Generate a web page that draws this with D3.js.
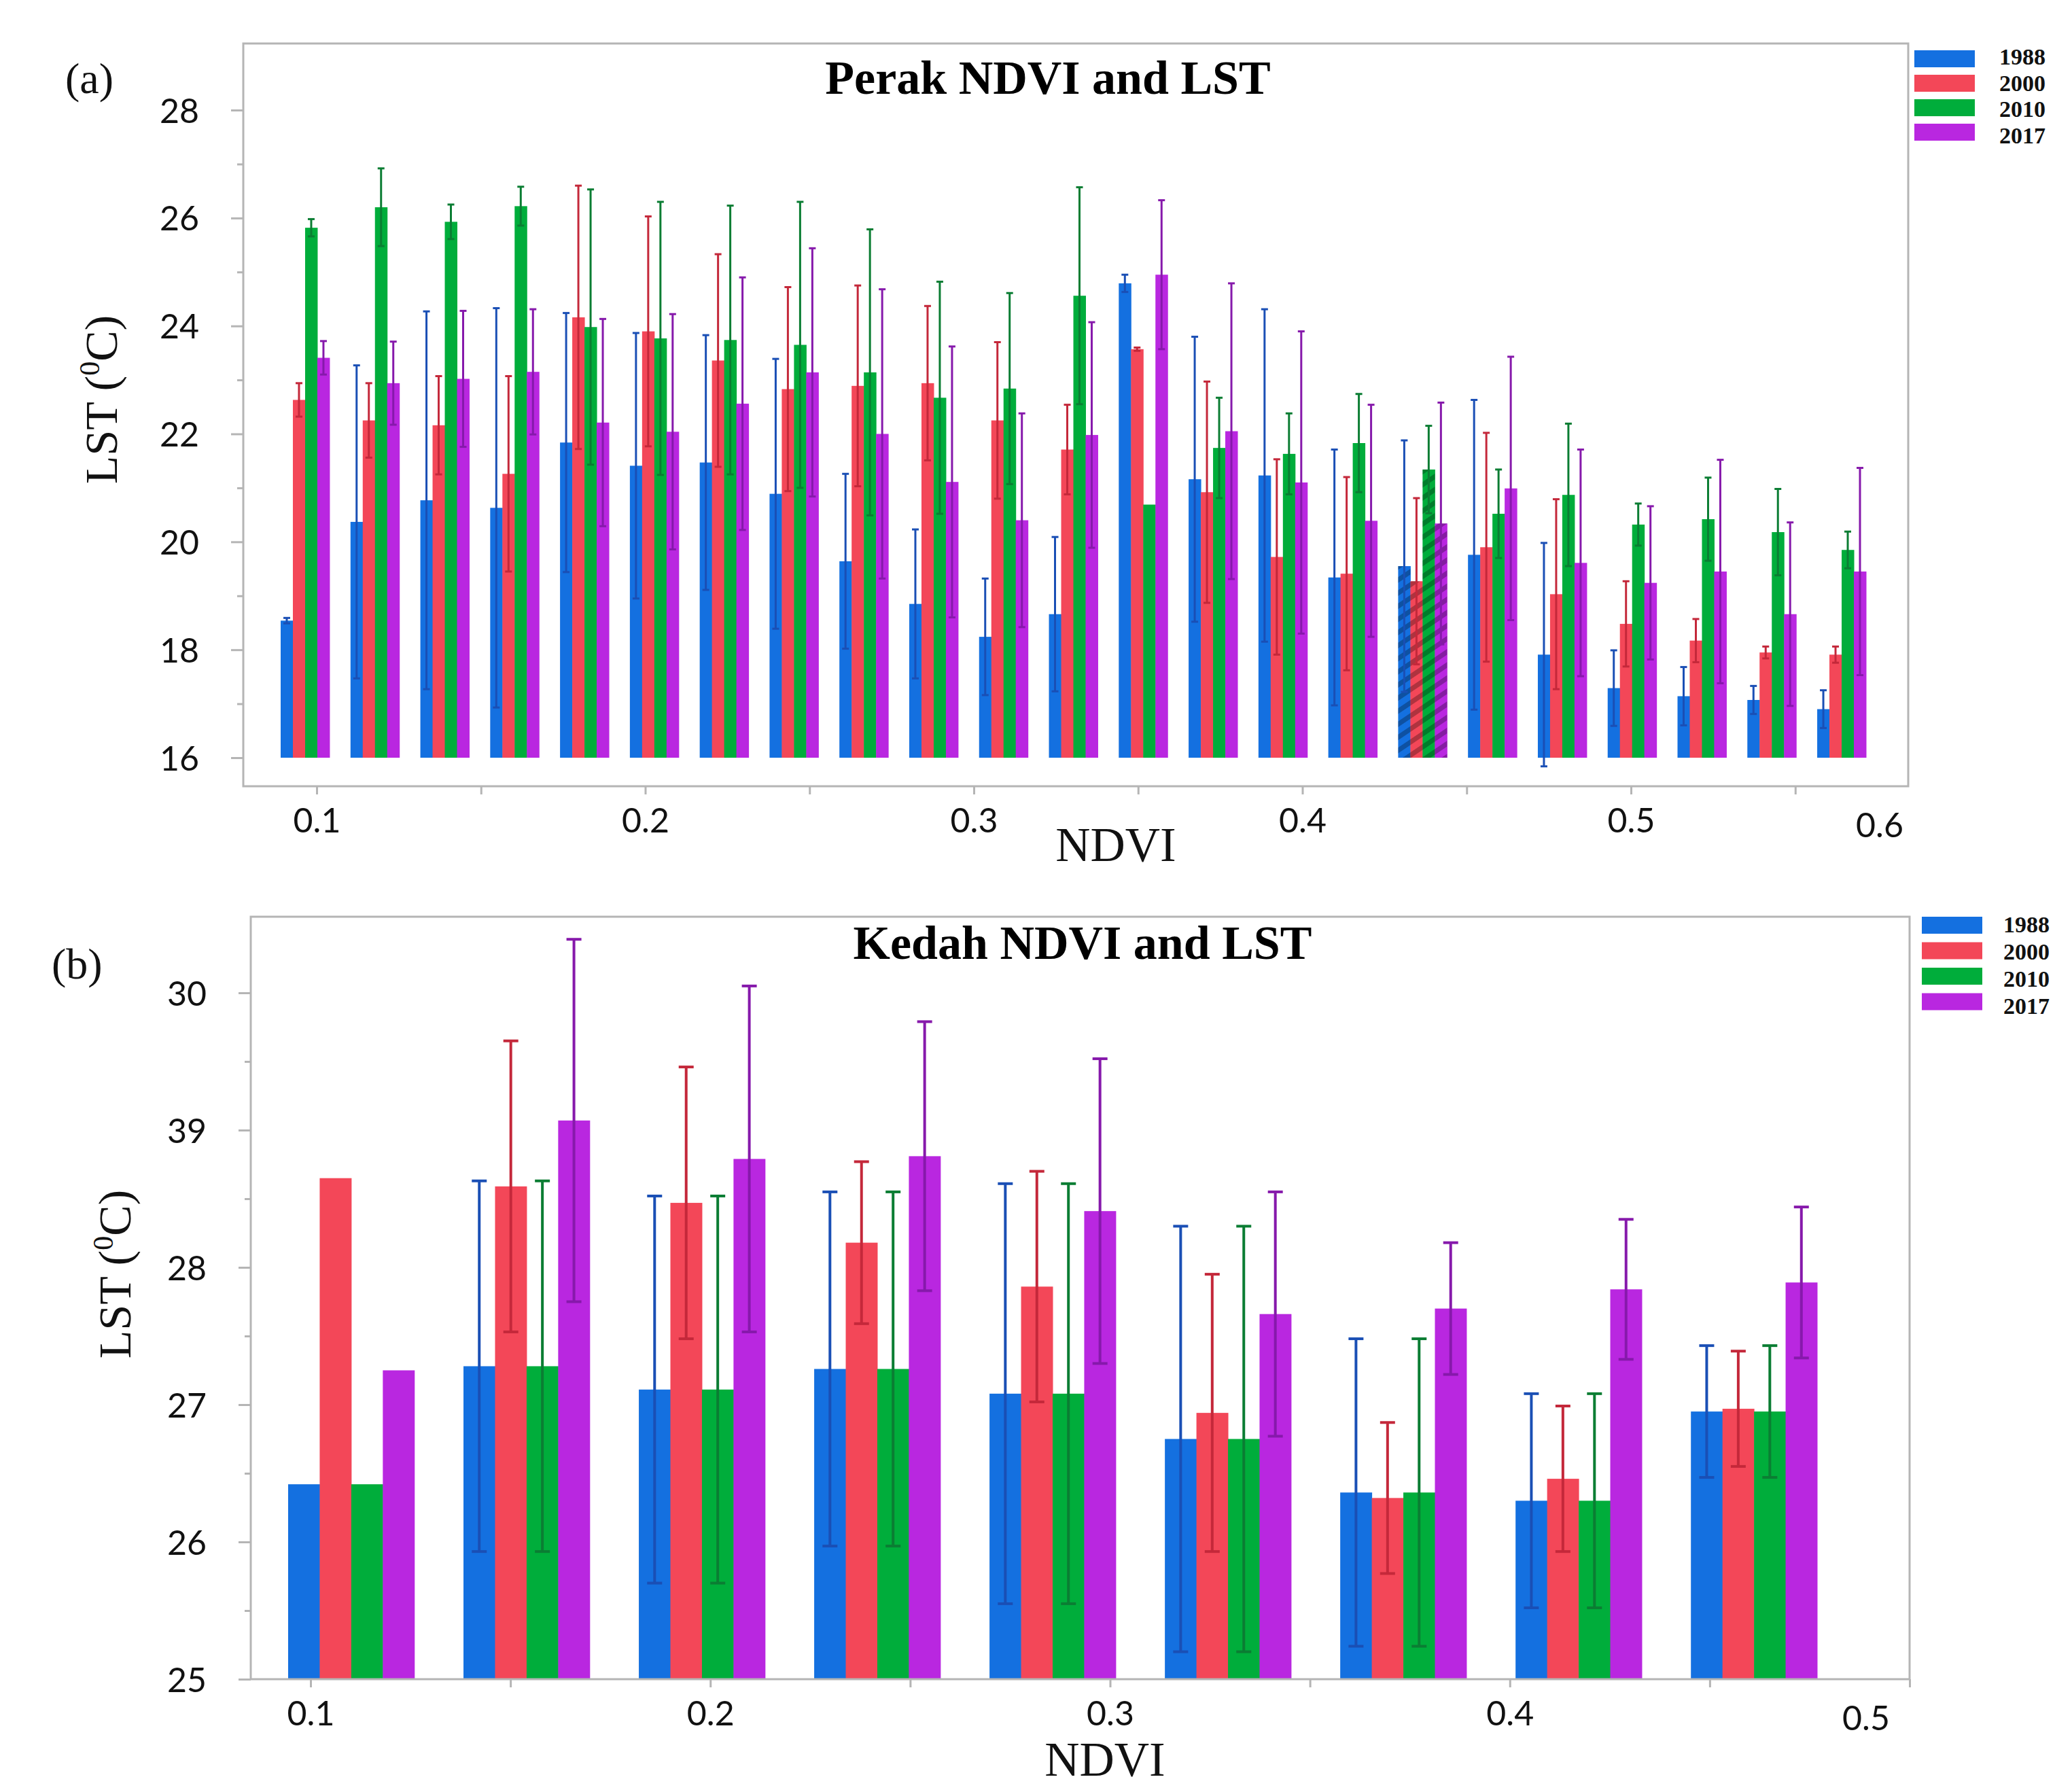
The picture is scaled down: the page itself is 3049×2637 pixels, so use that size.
<!DOCTYPE html>
<html>
<head>
<meta charset="utf-8">
<script src="https://cdn.jsdelivr.net/npm/d3@7"></script>
<style>
  body { margin: 0; background: #fff; }
</style>
</head>
<body>
<div id="chart"></div>
<script>
const years = ['1988', '2000', '2010', '2017'];
const barColors = ['#1470e0', '#f34758', '#00ad3b', '#b927e0'];
const errColors = ['#1a4fb5', '#c4283a', '#0b7d33', '#8619ab'];

// Perak (a): 23 NDVI bins
const perakBins = ['0.10', '0.12', '0.14', '0.16', '0.18', '0.20', '0.22', '0.24', '0.26', '0.28', '0.30', '0.32',
  '0.34', '0.36', '0.38', '0.40', '0.42', '0.44', '0.46', '0.48', '0.50', '0.52', '0.54'];
const perak1988 = [18.54, 20.37, 20.77, 20.63, 21.84, 21.41, 21.47, 20.89, 19.64, 18.85, 18.24, 18.66,
  24.79, 21.16, 21.23, 19.34, 19.55, 19.76, 17.91, 17.29, 17.14, 17.07, 16.90];
const perak1988Err = [0.05, 2.90, 3.50, 3.70, 2.40, 2.46, 2.36, 2.50, 1.62, 1.38, 1.08, 1.43,
  0.16, 2.64, 3.08, 2.37, 2.33, 2.87, 2.07, 0.70, 0.54, 0.26, 0.35];
const perak2000 = [22.63, 22.25, 22.16, 21.26, 24.16, 23.90, 23.36, 22.83, 22.89, 22.94, 22.25, 21.71,
  23.57, 20.92, 19.72, 19.41, 19.27, 19.90, 19.03, 18.48, 18.17, 17.95, 17.91];
const perak2000Err = [0.31, 0.69, 0.91, 1.81, 2.44, 2.13, 1.97, 1.89, 1.86, 1.43, 1.45, 0.83,
  0.03, 2.05, 1.81, 1.79, 1.54, 2.12, 1.76, 0.79, 0.40, 0.11, 0.15];
const perak2010 = [25.82, 26.20, 25.93, 26.22, 23.98, 23.77, 23.74, 23.65, 23.14, 22.67, 22.84, 24.56,
  20.69, 21.74, 21.63, 21.83, 21.34, 20.52, 20.87, 20.32, 20.42, 20.18, 19.85];
const perak2010Err = [0.16, 0.72, 0.32, 0.36, 2.55, 2.53, 2.49, 2.65, 2.65, 2.15, 1.77, 2.01,
  0, 0.93, 0.75, 0.91, 0.81, 0.82, 1.32, 0.39, 0.77, 0.80, 0.34];
const perak2017 = [23.41, 22.94, 23.02, 23.15, 22.21, 22.04, 22.56, 23.14, 22.00, 21.11, 20.40, 21.98,
  24.95, 22.05, 21.10, 20.39, 20.34, 20.99, 19.61, 19.24, 19.45, 18.66, 19.45];
const perak2017Err = [0.31, 0.77, 1.26, 1.16, 1.92, 2.18, 2.34, 2.30, 2.68, 2.51, 1.98, 2.09,
  1.38, 2.74, 2.80, 2.15, 2.24, 2.44, 2.10, 1.42, 2.07, 1.70, 1.92];
const perakHatched = ['0.42'];
const perakYTicks = [16, 18, 20, 22, 24, 26, 28];
const perakYLabels = ['16', '18', '20', '22', '24', '26', '28'];
const perakYMinor = [17, 19, 21, 23, 25, 27];
const perakXTicks = [0.1, 0.15, 0.2, 0.25, 0.3, 0.35, 0.4, 0.45, 0.5, 0.55];
const perakXLabels = ['0.1', '0.2', '0.3', '0.4', '0.5'];

// Kedah (b): 9 NDVI bins
const kedahBins = ['0.10', '0.15', '0.20', '0.25', '0.30', '0.35', '0.40', '0.45', '0.50'];
const kedah1988 = [26.42, 27.28, 27.11, 27.26, 27.08, 26.75, 26.36, 26.30, 26.95];
const kedah1988Err = [0, 1.35, 1.41, 1.29, 1.53, 1.55, 1.12, 0.78, 0.48];
const kedah2000 = [28.65, 28.59, 28.47, 28.18, 27.86, 26.94, 26.32, 26.46, 26.97];
const kedah2000Err = [0, 1.06, 0.99, 0.59, 0.84, 1.01, 0.55, 0.53, 0.42];
const kedah2010 = [26.42, 27.28, 27.11, 27.26, 27.08, 26.75, 26.36, 26.30, 26.95];
const kedah2010Err = [0, 1.35, 1.41, 1.29, 1.53, 1.55, 1.12, 0.78, 0.48];
const kedah2017 = [27.25, 29.07, 28.79, 28.81, 28.41, 27.66, 27.70, 27.84, 27.89];
const kedah2017Err = [0, 1.32, 1.26, 0.98, 1.11, 0.89, 0.48, 0.51, 0.55];
const kedahYTicks = [25, 26, 27, 28, 29, 30];
const kedahYLabels = ['25', '26', '27', '28', '39', '30'];
const kedahYMinor = [25.5, 26.5, 27.5, 28.5, 29.5];
const kedahXTicks = [0.1, 0.15, 0.2, 0.25, 0.3, 0.35, 0.4, 0.45, 0.5];
const kedahXLabels = ['0.1', '0.2', '0.3', '0.4'];

const W = 3049, H = 2637;
const serif = '"Liberation Serif", "Times New Roman", serif';
const sans = 'Lato, "Open Sans", sans-serif';

const svg = d3.select('#chart').append('svg')
  .attr('width', W).attr('height', H)
  .attr('viewBox', `0 0 ${W} ${H}`);

const defs = svg.append('defs');
defs.append('pattern')
  .attr('id', 'hatch')
  .attr('patternUnits', 'userSpaceOnUse')
  .attr('width', 16).attr('height', 16)
  .attr('patternTransform', 'rotate(-34)')
  .append('rect')
  .attr('x', 0).attr('y', 0).attr('width', 16).attr('height', 7)
  .attr('fill', 'rgba(0,0,0,0.28)');

function drawPanel(p) {
  const g = svg.append('g');
  const y = d3.scaleLinear().domain(p.yRef).range(p.yRefPx);
  const xAxis = d3.scaleLinear().domain(p.xRef).range(p.xRefPx);
  const x0 = d3.scaleBand().domain(p.bins).range(p.barRange).paddingInner(p.pad);
  const x1 = d3.scaleBand().domain(years).range([0, x0.bandwidth()]);

  const cells = (b) => {
    const i = p.bins.indexOf(b);
    return years.map((yr, k) => ({ bin: b, yr, k, v: p.values[k][i], e: p.errors[k][i] }));
  };

  // bars
  const groups = g.append('g').selectAll('g')
    .data(p.bins)
    .join('g')
    .attr('transform', (b) => `translate(${x0(b)},0)`);

  groups.selectAll('rect.bar')
    .data(cells)
    .join('rect')
    .attr('class', 'bar')
    .attr('x', (d) => x1(d.yr))
    .attr('width', x1.bandwidth() + 0.5)
    .attr('y', (d) => y(d.v))
    .attr('height', (d) => y(p.base) - y(d.v))
    .attr('fill', (d) => barColors[d.k]);

  groups.filter((b) => p.hatched.includes(b))
    .selectAll('rect.hatch')
    .data(cells)
    .join('rect')
    .attr('class', 'hatch')
    .attr('x', (d) => x1(d.yr))
    .attr('width', x1.bandwidth())
    .attr('y', (d) => y(d.v))
    .attr('height', (d) => y(p.base) - y(d.v))
    .attr('fill', 'url(#hatch)');

  // error bars
  const err = groups.selectAll('g.err')
    .data((b) => cells(b).filter((d) => d.e > 0))
    .join('g')
    .attr('class', 'err')
    .attr('stroke', (d) => errColors[d.k])
    .attr('stroke-width', p.errWidth)
    .attr('fill', 'none');
  const cx = (d) => x1(d.yr) + x1.bandwidth() / 2;
  err.append('line')
    .attr('x1', cx).attr('x2', cx)
    .attr('y1', (d) => y(d.v + d.e))
    .attr('y2', (d) => y(d.v - d.e));
  err.append('line')
    .attr('x1', (d) => cx(d) - p.cap).attr('x2', (d) => cx(d) + p.cap)
    .attr('y1', (d) => y(d.v + d.e)).attr('y2', (d) => y(d.v + d.e));
  err.append('line')
    .attr('x1', (d) => cx(d) - p.cap).attr('x2', (d) => cx(d) + p.cap)
    .attr('y1', (d) => y(d.v - d.e)).attr('y2', (d) => y(d.v - d.e));

  // frame
  g.append('rect')
    .attr('x', p.box.left).attr('y', p.box.top)
    .attr('width', p.box.right - p.box.left)
    .attr('height', p.box.bottom - p.box.top)
    .attr('fill', 'none')
    .attr('stroke', '#b5b5b5')
    .attr('stroke-width', 3);

  // y axis
  const yAxisG = g.append('g')
    .attr('transform', `translate(${p.box.left},0)`)
    .call(d3.axisLeft(y)
      .tickValues(p.yTicks)
      .tickSize(18)
      .tickPadding(47)
      .tickFormat((d, i) => p.yLabels[i]));
  g.append('g')
    .attr('transform', `translate(${p.box.left},0)`)
    .call(d3.axisLeft(y).tickValues(p.yMinor).tickSize(9).tickFormat(''));

  // x axis
  g.append('g')
    .attr('transform', `translate(0,${p.box.bottom})`)
    .call(d3.axisBottom(xAxis)
      .tickValues(p.xTicks)
      .tickSize(12)
      .tickPadding(20)
      .tickFormat((d) => {
        const idx = Math.round(d * 10) - 1;
        return Math.abs(d * 10 - Math.round(d * 10)) < 1e-6 && p.xLabels[idx] ? p.xLabels[idx] : '';
      }));

  g.selectAll('.domain').remove();
  g.selectAll('.tick line').attr('stroke', '#b5b5b5').attr('stroke-width', 3);
  g.selectAll('.tick text')
    .attr('font-family', sans)
    .attr('font-size', 50)
    .attr('fill', '#111');
  yAxisG.selectAll('.tick text').attr('dy', '0.36em');

  g.append('text')
    .attr('x', p.endLabel.x).attr('y', p.endLabel.y)
    .attr('text-anchor', 'middle')
    .attr('font-family', sans).attr('font-size', 50).attr('fill', '#111')
    .text(p.endLabel.text);

  // titles and labels
  g.append('text')
    .attr('x', p.title.x).attr('y', p.title.y)
    .attr('text-anchor', 'middle')
    .attr('font-family', serif).attr('font-weight', 'bold').attr('font-size', 70)
    .attr('fill', '#000')
    .text(p.title.text);

  g.append('text')
    .attr('x', p.tag.x).attr('y', p.tag.y)
    .attr('font-family', serif).attr('font-size', 64).attr('fill', '#111')
    .text(p.tag.text);

  g.append('text')
    .attr('x', p.xLabel.x).attr('y', p.xLabel.y)
    .attr('text-anchor', 'middle')
    .attr('font-family', serif).attr('font-size', 71).attr('fill', '#111')
    .text('NDVI');

  const yl = g.append('text')
    .attr('transform', `translate(${p.yLabel.x},${p.yLabel.y}) rotate(-90)`)
    .attr('text-anchor', 'middle')
    .attr('font-family', serif).attr('font-size', 68).attr('fill', '#111');
  yl.append('tspan').text('LST (');
  yl.append('tspan').attr('font-size', 42).attr('dy', -26).text('0');
  yl.append('tspan').attr('dy', 26).text('C)');

  // legend
  const leg = g.append('g');
  leg.selectAll('rect')
    .data(years)
    .join('rect')
    .attr('x', p.legend.x)
    .attr('y', (d, i) => p.legend.y + i * p.legend.step)
    .attr('width', 89).attr('height', 25)
    .attr('fill', (d, i) => barColors[i]);
  leg.selectAll('text')
    .data(years)
    .join('text')
    .attr('x', p.legend.tx)
    .attr('y', (d, i) => p.legend.ty + i * p.legend.tstep)
    .attr('font-family', serif).attr('font-weight', 'bold').attr('font-size', 34)
    .attr('fill', '#111')
    .text((d) => d);
}

drawPanel({
  bins: perakBins,
  values: [perak1988, perak2000, perak2010, perak2017],
  errors: [perak1988Err, perak2000Err, perak2010Err, perak2017Err],
  hatched: perakHatched,
  base: 16,
  yRef: [16, 28], yRefPx: [1115, 162],
  xRef: [0.1, 0.5], xRefPx: [466, 2400],
  barRange: [413, 2746], pad: 0.3,
  box: { left: 358, right: 2808, top: 64, bottom: 1157 },
  yTicks: perakYTicks, yLabels: perakYLabels, yMinor: perakYMinor,
  xTicks: perakXTicks, xLabels: perakXLabels,
  endLabel: { text: '0.6', x: 2766, y: 1232 },
  errWidth: 3, cap: 5,
  title: { text: 'Perak NDVI and LST', x: 1542, y: 138 },
  tag: { text: '(a)', x: 96, y: 137 },
  xLabel: { x: 1642, y: 1267 },
  yLabel: { x: 172, y: 588 },
  legend: { x: 2817, y: 74, step: 36, tx: 2942, ty: 95, tstep: 38.5 }
});

drawPanel({
  bins: kedahBins,
  values: [kedah1988, kedah2000, kedah2010, kedah2017],
  errors: [kedah1988Err, kedah2000Err, kedah2010Err, kedah2017Err],
  hatched: [],
  base: 25,
  yRef: [25, 30], yRefPx: [2471, 1461],
  xRef: [0.1, 0.5], xRefPx: [457, 2810],
  barRange: [424, 2674], pad: 0.28,
  box: { left: 369, right: 2810, top: 1349, bottom: 2471 },
  yTicks: kedahYTicks, yLabels: kedahYLabels, yMinor: kedahYMinor,
  xTicks: kedahXTicks, xLabels: kedahXLabels,
  endLabel: { text: '0.5', x: 2746, y: 2546 },
  errWidth: 4, cap: 11,
  title: { text: 'Kedah NDVI and LST', x: 1593, y: 1411 },
  tag: { text: '(b)', x: 76, y: 1440 },
  xLabel: { x: 1626, y: 2613 },
  yLabel: { x: 192, y: 1875 },
  legend: { x: 2828, y: 1349, step: 37.5, tx: 2948, ty: 1372, tstep: 40 }
});
</script>
</body>
</html>
